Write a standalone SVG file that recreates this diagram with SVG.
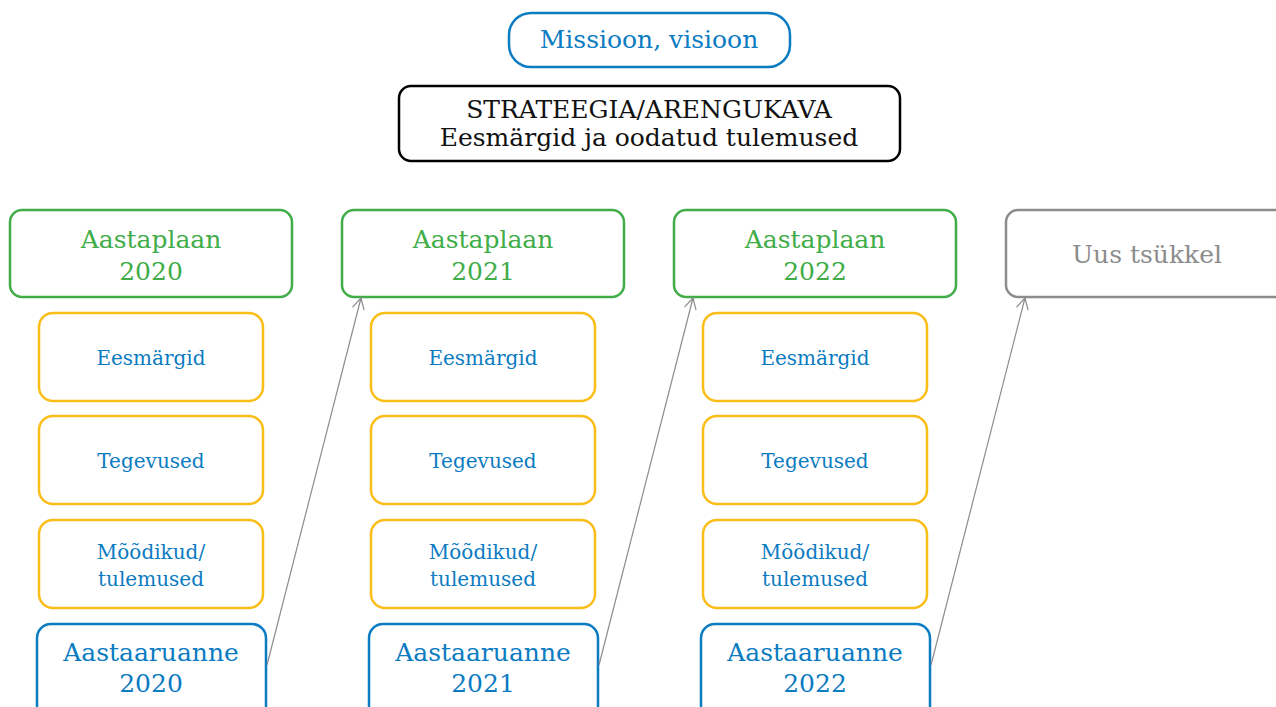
<svg xmlns="http://www.w3.org/2000/svg" width="1276" height="707" viewBox="0 0 1276 707">
<style>
text{font-family:"DejaVu Serif","Roboto",serif;text-anchor:middle}
.b{fill:#fff;stroke:#0b7bc2;stroke-width:2.5}
.g{fill:#fff;stroke:#41ad49;stroke-width:2.5}
.y{fill:#fff;stroke:#fbbd18;stroke-width:2.5}
.k{fill:#fff;stroke:#000;stroke-width:2.5}
.gr{fill:#fff;stroke:#8c8c8c;stroke-width:2.5}
.tb{fill:#0b7bc2}
.tg{fill:#41ad49}
.tk{fill:#111}
.tgr{fill:#8c8c8c}
.s{font-size:25px}
.m{font-size:25px}
.sm{font-size:20px}
.c{fill:none;stroke:#8c8c8c;stroke-width:1.2}
</style>
<defs>
<marker id="a" markerWidth="14" markerHeight="14" refX="12" refY="7" orient="auto" markerUnits="userSpaceOnUse">
<path d="M1,1 L12,7 L1,13" fill="none" stroke="#8c8c8c" stroke-width="1.2"/>
</marker>
</defs>
<g id="mission"><rect class="b" x="509" y="13" width="281" height="54" rx="22"/><text class="tb s" x="649" y="48">Missioon, visioon</text></g>
<g id="strategy"><rect class="k" x="399" y="86" width="501" height="75" rx="12"/><text class="tk m" x="649" y="118">STRATEEGIA/ARENGUKAVA</text><text class="tk m" x="649" y="146">Eesmärgid ja oodatud tulemused</text></g>

<g id="plan2020"><rect class="g" x="10" y="210" width="282" height="87" rx="12"/><text class="tg m" x="151" y="248">Aastaplaan</text><text class="tg m" x="151" y="280">2020</text></g>
<g id="goals2020"><rect class="y" x="39" y="313" width="224" height="88" rx="14"/><text class="tb sm" x="151" y="365">Eesmärgid</text></g>
<g id="act2020"><rect class="y" x="39" y="416" width="224" height="88" rx="14"/><text class="tb sm" x="151" y="468">Tegevused</text></g>
<g id="meas2020"><rect class="y" x="39" y="520" width="224" height="88" rx="14"/><text class="tb sm" x="151" y="559">Mõõdikud/</text><text class="tb sm" x="151" y="586">tulemused</text></g>
<g id="rep2020"><rect class="b" x="37" y="624" width="229" height="100" rx="14"/><text class="tb s" x="151" y="661">Aastaaruanne</text><text class="tb s" x="151" y="692">2020</text></g>

<g id="plan2021"><rect class="g" x="342" y="210" width="282" height="87" rx="12"/><text class="tg m" x="483" y="248">Aastaplaan</text><text class="tg m" x="483" y="280">2021</text></g>
<g id="goals2021"><rect class="y" x="371" y="313" width="224" height="88" rx="14"/><text class="tb sm" x="483" y="365">Eesmärgid</text></g>
<g id="act2021"><rect class="y" x="371" y="416" width="224" height="88" rx="14"/><text class="tb sm" x="483" y="468">Tegevused</text></g>
<g id="meas2021"><rect class="y" x="371" y="520" width="224" height="88" rx="14"/><text class="tb sm" x="483" y="559">Mõõdikud/</text><text class="tb sm" x="483" y="586">tulemused</text></g>
<g id="rep2021"><rect class="b" x="369" y="624" width="229" height="100" rx="14"/><text class="tb s" x="483" y="661">Aastaaruanne</text><text class="tb s" x="483" y="692">2021</text></g>

<g id="plan2022"><rect class="g" x="674" y="210" width="282" height="87" rx="12"/><text class="tg m" x="815" y="248">Aastaplaan</text><text class="tg m" x="815" y="280">2022</text></g>
<g id="goals2022"><rect class="y" x="703" y="313" width="224" height="88" rx="14"/><text class="tb sm" x="815" y="365">Eesmärgid</text></g>
<g id="act2022"><rect class="y" x="703" y="416" width="224" height="88" rx="14"/><text class="tb sm" x="815" y="468">Tegevused</text></g>
<g id="meas2022"><rect class="y" x="703" y="520" width="224" height="88" rx="14"/><text class="tb sm" x="815" y="559">Mõõdikud/</text><text class="tb sm" x="815" y="586">tulemused</text></g>
<g id="rep2022"><rect class="b" x="701" y="624" width="229" height="100" rx="14"/><text class="tb s" x="815" y="661">Aastaaruanne</text><text class="tb s" x="815" y="692">2022</text></g>

<g id="newcycle"><rect class="gr" x="1006" y="210" width="300" height="87" rx="12"/><text class="tgr m" x="1147" y="263">Uus tsükkel</text></g>

<g id="connectors">
<path class="c" d="M267,665 L361,298" marker-end="url(#a)"/>
<path class="c" d="M599,665 L693,298" marker-end="url(#a)"/>
<path class="c" d="M931,665 L1025,298" marker-end="url(#a)"/>
</g>
</svg>
